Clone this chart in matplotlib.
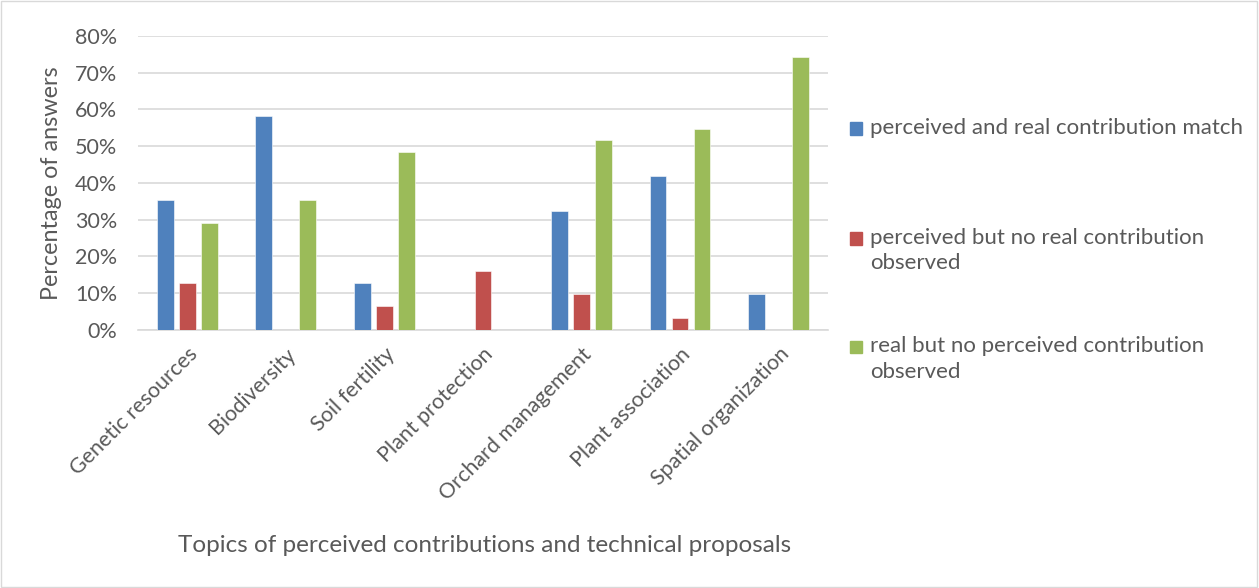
import matplotlib
matplotlib.use('Agg')
from matplotlib import pyplot as plt
from matplotlib.patches import Rectangle
import numpy as np

plt.rcParams['font.family'] = ['Lato', 'DejaVu Sans']

topics = ['Genetic resources', 'Biodiversity', 'Soil fertility', 'Plant protection',
          'Orchard management', 'Plant association', 'Spatial organization']
match = [35.5, 58.1, 12.9, 0, 32.3, 41.9, 9.7]
perceived_only = [12.9, 0, 6.5, 16.1, 9.7, 3.2, 0]
real_only = [29.0, 35.5, 48.4, 0, 51.6, 54.8, 74.2]

series_labels = ['perceived and real contribution match',
                 'perceived but no real contribution\nobserved',
                 'real but no perceived contribution\nobserved']
colors = ['#4F81BD', '#C0504D', '#9BBB59']
grey = '#595959'

fig = plt.figure(figsize=(12.59, 5.88), dpi=100)
ax = fig.add_axes([0.1096, 0.4388, 0.548, 0.5])

x = np.arange(len(topics))
w = 0.17
off = 0.223
for i, vals in enumerate([match, perceived_only, real_only]):
    ax.bar(x + (i - 1) * off, vals, w, color=colors[i], edgecolor='white', linewidth=0.4, zorder=3)

ax.set_xlim(-0.5, len(topics) - 0.5)
ax.set_ylim(0, 80)
ax.set_yticks(range(0, 81, 10))
ax.set_yticklabels([f'{v}%' for v in range(0, 81, 10)], fontsize=15.5, color=grey)
ax.yaxis.grid(True, color='#d9d9d9', linewidth=1.2, zorder=0)
ax.tick_params(axis='y', length=0, pad=15)
ax.tick_params(axis='x', length=0, pad=10)
ax.set_xticks(x)
ax.set_xticklabels(topics, rotation=45, ha='right', rotation_mode='anchor', fontsize=15.5, color=grey)
for s in ['top', 'right', 'left']:
    ax.spines[s].set_visible(False)
ax.spines['bottom'].set_color('#d9d9d9')
ax.spines['bottom'].set_linewidth(1.2)

ax.set_ylabel('Percentage of answers', fontsize=16.8, color=grey)
ax.yaxis.set_label_coords(-0.11, 0.5)
fig.text(0.385, 0.073, 'Topics of perceived contributions and technical proposals',
         fontsize=17.5, color=grey, ha='center', va='center')

# legend drawn at right side
leg_y = [0.782, 0.595, 0.41]
for i in range(3):
    fig.patches.append(Rectangle((0.6755, leg_y[i] - 0.011), 0.0095, 0.021,
                                 transform=fig.transFigure, color=colors[i]))
    fig.text(0.691, leg_y[i] + 0.018, series_labels[i], fontsize=16, color=grey,
             ha='left', va='top', linespacing=1.35)

fig.patches.append(Rectangle((0.0005, 0.001), 0.998, 0.997, transform=fig.transFigure,
                             fill=False, edgecolor='#d9d9d9', linewidth=1))

fig.savefig('out.png', dpi=100)
